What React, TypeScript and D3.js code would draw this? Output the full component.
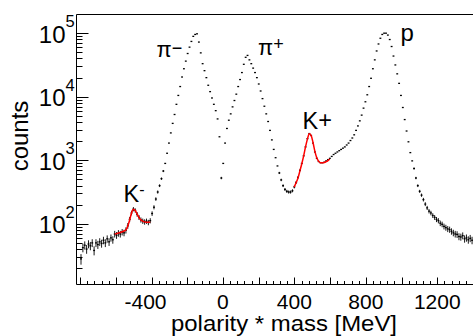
import React from "react";
import * as d3 from "d3";

// histogram: polarity * mass, 210 bins from -800 to 1400 MeV
const binLow = -800;
const binHigh = 1400;
const counts: number[] = [
  28, 42, 46, 40, 48, 45, 50, 38, 50, 47,
  52, 49, 55, 50, 58, 52, 60, 56, 69, 66,
  71, 69, 74, 72, 79, 93, 117, 148, 170, 162,
  141, 126, 115, 110, 107, 110, 105, 112, 145, 182,
  245, 316, 398, 513, 676, 891, 1288, 1862, 2692, 3802,
  5248, 7586, 10470, 14450, 20420, 27540, 36310, 47860, 60260, 74130,
  89130, 95500, 97700, 72440, 48980, 33110, 25700, 19950, 15140, 12020,
  9550, 7590, 6030, 4470, 2340, 525, 891, 1862, 3162, 4266,
  5370, 6918, 8710, 10960, 14450, 18620, 23990, 32360, 41690, 44670,
  38020, 33110, 28180, 23990, 19950, 15850, 12300, 9330, 7080, 5370,
  4070, 2950, 2090, 1480, 1096, 813, 631, 490, 398, 347,
  324, 316, 316, 331, 380, 447, 537, 692, 891, 1175,
  1622, 2188, 2630, 2455, 1862, 1349, 1072, 955, 912, 912,
  933, 977, 1023, 1072, 1148, 1230, 1288, 1349, 1413, 1479,
  1549, 1622, 1738, 1862, 2042, 2239, 2512, 2951, 3467, 4169,
  5129, 6607, 8318, 10720, 14450, 19500, 27540, 38020, 52480, 67610,
  83180, 95500, 100000, 100000, 93330, 79430, 61660, 43650, 31620, 22910,
  16220, 10470, 6761, 4365, 2884, 1950, 1318, 977, 741, 525,
  398, 324, 282, 240, 204, 178, 158, 148, 135, 126,
  117, 112, 102, 98, 91, 87, 83, 81, 76, 72,
  69, 68, 63, 62, 65, 58, 60, 56, 59, 55,
];

// fitted curves (values at bin centres, starting at the given bin index)
const kMinusFitFirstBin = 18;
const kMinusFit = [69, 70, 71.5, 73, 75, 77, 80, 92, 115, 148, 170, 162, 142, 125, 115, 110, 107, 106, 106, 107];
const kPlusFitFirstBin = 114;
const kPlusFit = [380, 445, 530, 680, 880, 1170, 1620, 2150, 2600, 2450, 1900, 1380, 1090, 960, 915, 910, 920, 950, 990, 1040];

const xLabelTicks = [-400, 0, 400, 800, 1200];
const yDecades = [2, 3, 4, 5];

export default function App() {
  const W = 473, H = 336;
  const L = 76.5, R = 473, T = 14.5, B = 284.5;
  const x = d3.scaleLinear().domain([-820, 1400]).range([L, R]);
  const y = d3.scaleLog().domain([Math.pow(10, 1.044), Math.pow(10, 5.294)]).range([B, T]);
  const bw = (binHigh - binLow) / counts.length;
  const center = (i: number) => binLow + bw * (i + 0.5);
  const bwPx = x(bw) - x(0);

  const xTicks = d3.range(-800, 1401, 40).filter((v) => x(v) >= L && x(v) <= R);
  const yTicks: { v: number; major: boolean }[] = [];
  for (let d = 1; d <= 5; d++) {
    for (let m = 1; m <= 9; m++) {
      const v = m * Math.pow(10, d);
      const [lo, hi] = y.domain();
      if (v >= lo && v <= hi) yTicks.push({ v, major: m === 1 });
    }
  }

  const line = d3
    .line<[number, number]>()
    .x((d) => x(d[0]))
    .y((d) => y(d[1]))
    .curve(d3.curveMonotoneX);

  const kmPts = kMinusFit.map((v, j) => [center(kMinusFitFirstBin + j), v] as [number, number]);
  const kpPts = kPlusFit.map((v, j) => [center(kPlusFitFirstBin + j), v] as [number, number]);

  const font = "'Liberation Sans', Arial, sans-serif";

  return (
    <svg
      width={W}
      height={H}
      viewBox={`0 0 ${W} ${H}`}
      style={{ position: "absolute", left: 0, top: 0, background: "#fff" }}
      fontFamily={font}
    >
      <rect x={0} y={0} width={W} height={H} fill="#fff" />
      <defs>
        <clipPath id="plot">
          <rect x={L} y={T} width={R - L + 2} height={B - T} />
        </clipPath>
      </defs>

      {/* data points with error bars */}
      <g clipPath="url(#plot)">
        {counts.map((c, i) => {
          const cx = x(center(i));
          const cy = y(c);
          const err = Math.sqrt(c);
          const y1 = y(Math.max(c - err, 1));
          const y2 = y(c + err);
          return (
            <g key={i}>
              {y1 - y2 > 2 && (
                <line x1={cx} x2={cx} y1={y1} y2={y2} stroke="#000" strokeWidth={0.9} />
              )}
              <rect x={cx - bwPx / 2} y={cy - 0.65} width={bwPx} height={1.3} fill="#000" />
            </g>
          );
        })}
        <path d={line(kmPts) || ""} fill="none" stroke="#ff0000" strokeWidth={1.5} />
        <path d={line(kpPts) || ""} fill="none" stroke="#ff0000" strokeWidth={1.5} />
      </g>

      {/* frame */}
      <path d={`M${R + 2},${T} H${L} V${B} H${R + 2}`} fill="none" stroke="#000" strokeWidth={1} />

      {/* x ticks */}
      {xTicks.map((v) => {
        const len = v % 200 === 0 ? 7 : 3.5;
        const px = Math.round(x(v)) + 0.5;
        return <line key={v} x1={px} x2={px} y1={B} y2={B - len} stroke="#000" strokeWidth={1} />;
      })}
      {xLabelTicks.map((v) => (
        <text key={v} x={x(v)} dx={v < 0 ? -6 : 0} y={308.5} fontSize={21} textAnchor="middle" fill="#000">
          {v}
        </text>
      ))}
      <text
        x={397}
        y={330.8}
        fontSize={22.5}
        textAnchor="end"
        textLength={226}
        lengthAdjust="spacingAndGlyphs"
        fill="#000"
      >
        polarity * mass [MeV]
      </text>

      {/* y ticks */}
      {yTicks.map((t, i) => {
        const py = Math.round(y(t.v)) + 0.5;
        return (
          <line key={i} x1={L} x2={L + (t.major ? 12 : 6)} y1={py} y2={py} stroke="#000" strokeWidth={1} />
        );
      })}
      {yDecades.map((d) => (
        <g key={d}>
          <text x={65.5} y={y(Math.pow(10, d)) + 9.5} fontSize={24} textAnchor="end" fill="#000">
            10
          </text>
          <text x={65.5} y={y(Math.pow(10, d)) - 6} fontSize={16.5} textAnchor="start" fill="#000">
            {d}
          </text>
        </g>
      ))}
      <text
        transform={`translate(28,136) rotate(-90)`}
        fontSize={24}
        textAnchor="middle"
        fill="#000"
      >
        counts
      </text>

      {/* peak labels */}
      <text x={156.5} y={56.7} fontSize={22} fill="#000">
        π<tspan fontSize={18} dy={-2.7}>−</tspan>
      </text>
      <text x={258} y={55} fontSize={22} fill="#000">
        π<tspan fontSize={18} dy={-5}>+</tspan>
      </text>
      <text x={302.5} y={129.3} fontSize={23.5} fill="#000">
        K<tspan dy={-1}>+</tspan>
      </text>
      <text x={123.5} y={201.7} fontSize={23.5} fill="#000">
        K<tspan fontSize={16} dy={-7}>-</tspan>
      </text>
      <text x={400.5} y={41} fontSize={24} fill="#000">
        p
      </text>
    </svg>
  );
}
